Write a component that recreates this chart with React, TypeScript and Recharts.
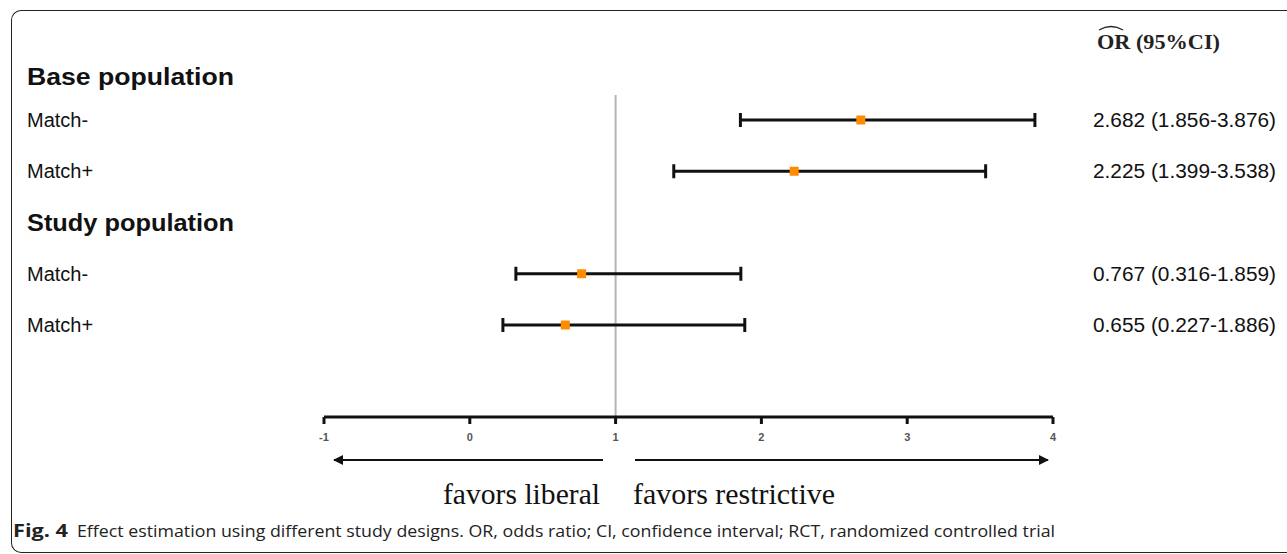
import React from "react"
import { ScatterChart, Scatter, XAxis, YAxis, ErrorBar, ReferenceLine } from "recharts"

const groupNames = ["Base population", "Study population"]
const groupRows = [0.16, 3]
const rowLabels = ["Match-", "Match+", "Match-", "Match+"]
const rowIndex = [1, 2, 4, 5]
const orValues = [2.682, 2.225, 0.767, 0.655]
const ciLow = [1.856, 1.399, 0.316, 0.227]
const ciHigh = [3.876, 3.538, 1.859, 1.886]
const xTicks = [-1, 0, 1, 2, 3, 4]

const fmt = (v: number) => v.toFixed(3)

const data = orValues.map((or, i) => ({
  row: rowIndex[i],
  or,
  err: [or - ciLow[i], ciHigh[i] - or],
  label: rowLabels[i],
  ci: `${fmt(or)} (${fmt(ciLow[i])}-${fmt(ciHigh[i])})`,
}))

const Y_MAX = 6.795
const SANS = "'Liberation Sans', Arial, sans-serif"
const SERIF = "'Liberation Serif', 'Times New Roman', serif"

function RowTick(props: any) {
  const { y, payload } = props
  const v = payload.value
  const g = groupRows.indexOf(v)
  if (g >= 0) {
    return (
      <text x={27} y={y} fontFamily={SANS} fontWeight="bold" fontSize={23} fill="#111" dominantBaseline="central"
        textLength={g === 0 ? 207 : 207} lengthAdjust="spacingAndGlyphs">
        {groupNames[g]}
      </text>
    )
  }
  const d = data.find((r) => r.row === v)
  if (!d) return null
  return (
    <g>
      <text x={27} y={y} fontFamily={SANS} fontSize={20} fill="#111" dominantBaseline="central">
        {d.label}
      </text>
      <text x={1093} y={y} fontFamily={SANS} fontSize={19.5} fill="#111" dominantBaseline="central"
        textLength={183} lengthAdjust="spacingAndGlyphs">
        {d.ci}
      </text>
    </g>
  )
}

function OrSquare(props: any) {
  const { cx, cy } = props
  return <rect x={cx - 4.5} y={cy - 4.5} width={9} height={9} fill="#ff8c00" />
}

export default function App() {
  return (
    <div style={{ position: "absolute", left: 0, top: 0, width: 1287, height: 554, background: "#fff", overflow: "hidden" }}>
      <div
        style={{
          position: "absolute",
          left: 11,
          top: 10,
          width: 1300,
          height: 541,
          borderTop: "1.5px solid #222",
          borderLeft: "1.5px solid #222",
          borderBottom: "1.5px solid #222",
          borderRadius: "10px 0 0 10px",
        }}
      />
      <div style={{ position: "absolute", left: 0, top: 0 }}>
        <ScatterChart width={1287} height={554} margin={{ top: 68.75, right: 234, bottom: 107, left: 0 }}>
          <XAxis
            type="number"
            dataKey="or"
            domain={[-1, 4]}
            ticks={xTicks}
            interval={0}
            height={30}
            axisLine={{ stroke: "#111", strokeWidth: 3 }}
            tickLine={{ stroke: "#111", strokeWidth: 3 }}
            tickSize={7}
            tickMargin={9}
            tick={{ fontSize: 11, fill: "#555", fontFamily: SANS, fontWeight: "bold" }}
          />
          <YAxis
            type="number"
            dataKey="row"
            domain={[0, Y_MAX]}
            reversed
            ticks={[groupRows[0], 1, 2, groupRows[1], 4, 5]}
            interval={0}
            width={324}
            axisLine={false}
            tickLine={false}
            tick={<RowTick />}
          />
          <ReferenceLine
            segment={[
              { x: 1, y: 0.51 },
              { x: 1, y: Y_MAX },
            ]}
            stroke="#b5b5b5"
            strokeWidth={2}
          />
          <Scatter data={data} shape={<OrSquare />} isAnimationActive={false}>
            <ErrorBar dataKey="err" direction="x" width={7} stroke="#111" strokeWidth={3} />
          </Scatter>
        </ScatterChart>
      </div>
      <svg width={1287} height={554} style={{ position: "absolute", left: 0, top: 0, pointerEvents: "none" }}>
        <defs>
          <marker id="ah" markerWidth="10" markerHeight="10" refX="9" refY="5" orient="auto" markerUnits="userSpaceOnUse">
            <path d="M0,0 L10,5 L0,10 z" fill="#111" />
          </marker>
        </defs>
        <path d="M1099,30 Q1111,23 1123,30" stroke="#222" strokeWidth={1.3} fill="none" />
        <text x={1097} y={49} fontFamily={SERIF} fontWeight="bold" fontSize={21} fill="#222" textLength={123} lengthAdjust="spacingAndGlyphs">
          OR (95%CI)
        </text>
        <line x1={603} y1={460} x2={334} y2={460} stroke="#111" strokeWidth={2} markerEnd="url(#ah)" />
        <line x1={635} y1={460} x2={1048} y2={460} stroke="#111" strokeWidth={2} markerEnd="url(#ah)" />
        <text x={443} y={504} fontFamily={SERIF} fontSize={29} fill="#111" textLength={157} lengthAdjust="spacingAndGlyphs">
          favors liberal
        </text>
        <text x={633} y={504} fontFamily={SERIF} fontSize={29} fill="#111" textLength={202} lengthAdjust="spacingAndGlyphs">
          favors restrictive
        </text>
        <text x={13} y={537} fontFamily="'Open Sans', sans-serif" fontWeight="bold" fontSize={17} fill="#222" textLength={55} lengthAdjust="spacingAndGlyphs">
          Fig. 4
        </text>
        <text x={77} y={537} fontFamily="'Open Sans', sans-serif" fontSize={17} fill="#222" textLength={978} lengthAdjust="spacingAndGlyphs">
          Effect estimation using different study designs. OR, odds ratio; CI, confidence interval; RCT, randomized controlled trial
        </text>
      </svg>
    </div>
  )
}
